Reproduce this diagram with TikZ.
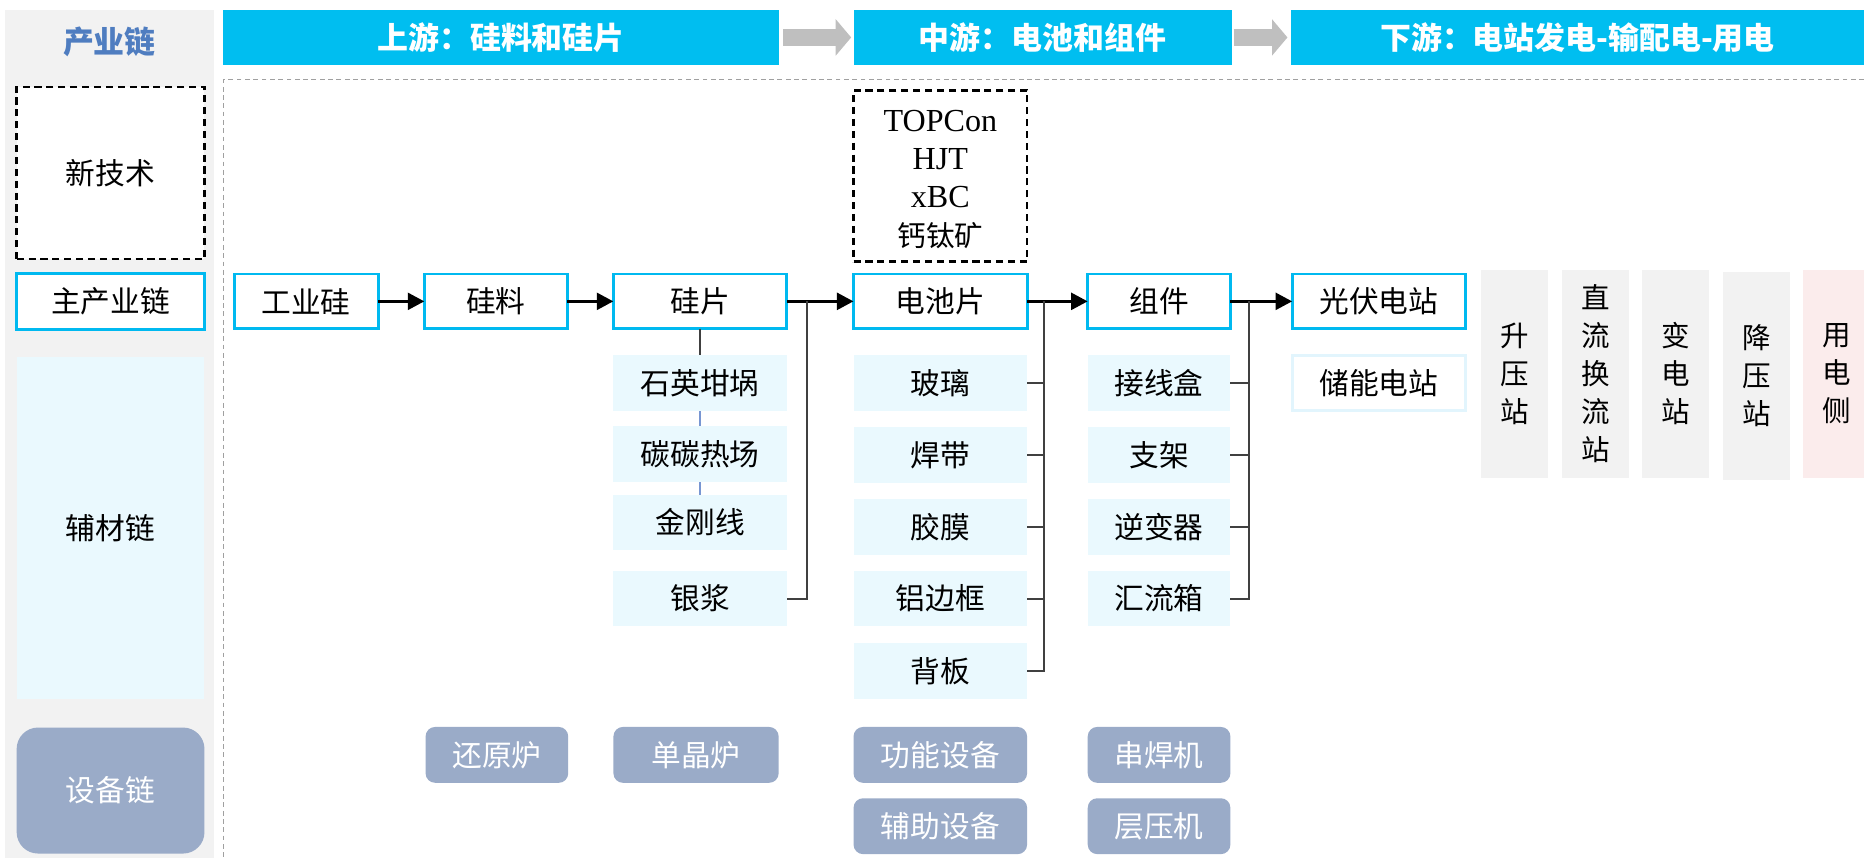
\documentclass[tikz,border=0pt]{standalone}
\usepackage{fontspec}
\setmainfont{Liberation Serif}
\newfontfamily\cjk{Noto Sans CJK SC}
\usetikzlibrary{arrows.meta}

\definecolor{bannerc}{RGB}{0,190,240}
\definecolor{boxc}{RGB}{0,185,240}
\definecolor{lightc}{RGB}{234,249,254}
\definecolor{colgray}{RGB}{242,242,242}
\definecolor{equipc}{RGB}{154,171,200}
\definecolor{arrowgray}{RGB}{191,191,191}
\definecolor{pinkc}{RGB}{251,236,236}
\definecolor{titleblue}{RGB}{79,125,192}
\definecolor{linegray}{RGB}{64,64,64}
\definecolor{dashgray}{RGB}{160,160,160}
\definecolor{storec}{RGB}{226,245,253}
\definecolor{linkblue}{RGB}{120,150,210}

\begin{document}
\begin{tikzpicture}[x=1pt,y=-1pt,
  every node/.style={inner sep=0pt, outer sep=0pt},
  cjkfont/.style={font=\cjk\fontsize{25}{29}\selectfont},
  banner/.style={fill=bannerc, text=white, minimum height=47, font=\cjk\bfseries\fontsize{26}{30}\selectfont},
  mainbox/.style={draw=boxc, line width=2.5pt, fill=white, minimum height=46, cjkfont},
  auxbox/.style={fill=lightc, minimum height=47, cjkfont},
  equipbox/.style={fill=equipc, rounded corners=8pt, minimum height=47, text=white, cjkfont},
  vbox/.style={fill=colgray, minimum width=56, minimum height=175, align=center, font=\cjk\fontsize{24}{32}\selectfont},
  techbox/.style={draw=black, line width=2pt, dash pattern=on 6pt off 4pt, fill=white},
  mainarrow/.style={line width=3pt, -{Triangle[length=14pt,width=14pt]}},
  bigarrow/.style={draw=arrowgray, line width=15pt, -{Triangle[length=13pt,width=30pt]}},
  branch/.style={line width=1.6pt, draw=linegray},
  bluelink/.style={line width=1.2pt, draw=linkblue},
  frame/.style={draw=dashgray, line width=1pt, dash pattern=on 4pt off 3pt}
]
\useasboundingbox (0,0) rectangle (1568,722);

% left column
\node[fill=colgray, minimum width=176, minimum height=714] (col) at (92,365) {};
\node[font=\cjk\bfseries\fontsize{26}{30}\selectfont, text=titleblue] (title) at (92,35) {产业链};
\node[techbox, minimum width=158, minimum height=145, cjkfont] (xjs) at (93,145.5) {新技术};
\node[mainbox, minimum width=158, minimum height=47] (zcyl) at (93,253.5) {主产业链};
\node[fill=lightc, minimum width=158, minimum height=288, cjkfont] (fcl) at (93,444) {辅材链};
\node[fill=equipc, rounded corners=18pt, minimum width=158, minimum height=106, text=white, cjkfont] (sbl) at (93,665) {设备链};

% banners
\node[banner, minimum width=467] (b1) at (421.5,31.5) {上游：硅料和硅片};
\node[banner, minimum width=318] (b2) at (877,31.5) {中游：电池和组件};
\node[banner, minimum width=482] (b3) at (1327,31.5) {下游：电站发电-输配电-用电};
\draw[bigarrow] ([xshift=4pt]b1.east) -- ([xshift=-2pt]b2.west);
\draw[bigarrow] ([xshift=2pt]b2.east) -- ([xshift=-3pt]b3.west);

% frame
\coordinate (fc) at (188,67);
\coordinate (fr) at (1568,67);
\coordinate (fb) at (188,722);
\draw[frame] (fr) -- (fc) -- (fb);

% new tech
\node[techbox, minimum width=146, minimum height=144, align=center, font=\fontsize{27}{32}\selectfont] (tech) at (791,148) {};
\node[align=center, font=\fontsize{27}{32}\selectfont] (techtxt) at (791,151)
  {TOPCon\\HJT\\xBC\\{\cjk\fontsize{24}{32}\selectfont 钙钛矿}};

% main chain
\node[mainbox, minimum width=121] (gyg) at (257.5,253.5) {工业硅};
\node[mainbox, minimum width=120] (gl) at (417,253.5) {硅料};
\node[mainbox, minimum width=146] (gp) at (589,253.5) {硅片};
\node[mainbox, minimum width=146] (dcp) at (791,253.5) {电池片};
\node[mainbox, minimum width=120] (zj) at (975,253.5) {组件};
\node[mainbox, minimum width=146] (gfdz) at (1160,253.5) {光伏电站};
\node[draw=storec, line width=2.5pt, fill=white, minimum width=146, minimum height=46, cjkfont] (cndz) at (1160,322) {储能电站};

\draw[mainarrow] (gyg) -- (gl);
\draw[mainarrow] (gl) -- (gp);
\draw[mainarrow] (gp) -- (dcp);
\draw[mainarrow] (dcp) -- (zj);
\draw[mainarrow] (zj) -- (gfdz);

% auxiliary materials
\node[auxbox, minimum width=146] (sy) at (589,322.5) {石英坩埚};
\node[auxbox, minimum width=146] (tt) at (589,382) {碳碳热场};
\node[auxbox, minimum width=146] (jgx) at (589,439.5) {金刚线};
\node[auxbox, minimum width=146] (yj) at (589,503.5) {银浆};

\node[auxbox, minimum width=146] (bl) at (791,322.5) {玻璃};
\node[auxbox, minimum width=146] (hd) at (791,383) {焊带};
\node[auxbox, minimum width=146] (jm) at (791,443.5) {胶膜};
\node[auxbox, minimum width=146] (lbk) at (791,503.5) {铝边框};
\node[auxbox, minimum width=146] (bb) at (791,564.5) {背板};

\node[auxbox, minimum width=120] (jxh) at (975,322.5) {接线盒};
\node[auxbox, minimum width=120] (zjia) at (975,383) {支架};
\node[auxbox, minimum width=120] (nbq) at (975,443.5) {逆变器};
\node[auxbox, minimum width=120] (hlx) at (975,503.5) {汇流箱};

\draw[branch] (gp.south) -- (sy.north);
\draw[bluelink] (sy.south) -- (tt.north);
\draw[bluelink] (tt.south) -- (jgx.north);

\coordinate (j1) at (679,253.5);
\draw[branch] (j1) |- (yj.east);

\coordinate (j2) at (878,253.5);
\draw[branch] (j2) |- (bb.east);
\draw[branch] (bl.east) -- (bl.east -| j2);
\draw[branch] (hd.east) -- (hd.east -| j2);
\draw[branch] (jm.east) -- (jm.east -| j2);
\draw[branch] (lbk.east) -- (lbk.east -| j2);

\coordinate (j3) at (1051,253.5);
\draw[branch] (j3) |- (hlx.east);
\draw[branch] (jxh.east) -- (jxh.east -| j3);
\draw[branch] (zjia.east) -- (zjia.east -| j3);
\draw[branch] (nbq.east) -- (nbq.east -| j3);

% equipment
\node[equipbox, minimum width=120] (hyl) at (418,635) {还原炉};
\node[equipbox, minimum width=139] (djl) at (585.5,635) {单晶炉};
\node[equipbox, minimum width=146] (gnsb) at (791,635) {功能设备};
\node[equipbox, minimum width=146] (fzsb) at (791,695) {辅助设备};
\node[equipbox, minimum width=120] (chj) at (975,635) {串焊机};
\node[equipbox, minimum width=120] (cyj) at (975,695) {层压机};

% downstream stations
\node[vbox] (syz) at (1274,314.5) {升\\压\\站};
\node[vbox] (zlhl) at (1342,314.5) {直\\流\\换\\流\\站};
\node[vbox] (bdz) at (1409.5,314.5) {变\\电\\站};
\node[vbox] (jyz) at (1477.5,316) {降\\压\\站};
\node[vbox, fill=pinkc] (ydc) at (1545,314.5) {用\\电\\侧};
\end{tikzpicture}
\end{document}
